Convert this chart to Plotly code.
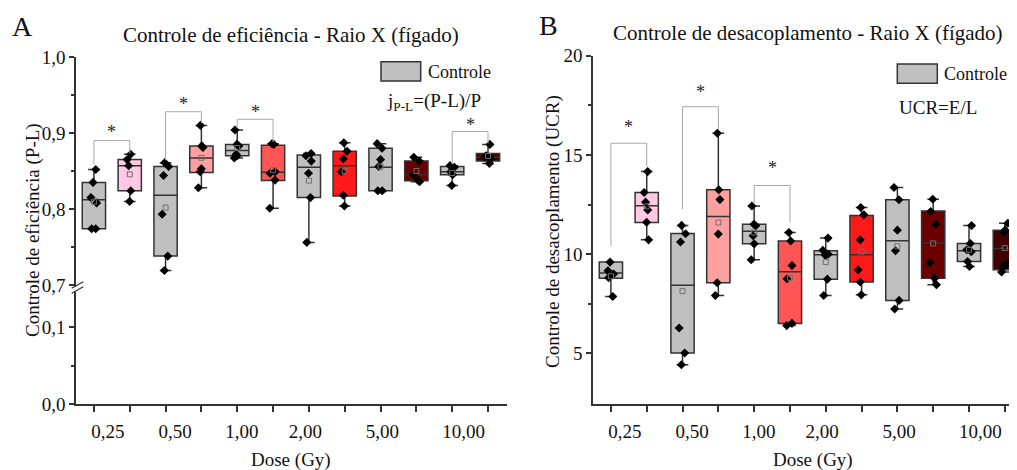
import numpy as np
import plotly.graph_objects as go

# the page body adds an 8px offset; figure is sized/positioned to compensate
OFF = 8
W, H = 1017 - OFF, 470 - OFF

doses = ["0,25", "0,50", "1,00", "2,00", "5,00", "10,00"]
positions = list(range(1, 13))  # control / irradiated pairs per dose

# ---- Panel A: Controle de eficiência (P-L) ----
eff_points = [
    [0.852, 0.835, 0.815, 0.808, 0.774, 0.774],
    [0.872, 0.865, 0.857, 0.824, 0.810],
    [0.861, 0.856, 0.844, 0.793, 0.738, 0.719],
    [0.910, 0.883, 0.881, 0.853, 0.849, 0.828],
    [0.904, 0.885, 0.883, 0.872, 0.870, 0.867],
    [0.886, 0.885, 0.849, 0.847, 0.838, 0.801],
    [0.873, 0.870, 0.863, 0.847, 0.815, 0.756],
    [0.887, 0.876, 0.866, 0.849, 0.818, 0.804],
    [0.886, 0.880, 0.865, 0.856, 0.824, 0.824],
    [0.868, 0.863, 0.845, 0.838, 0.836],
    [0.857, 0.855, 0.849, 0.845, 0.831],
    [0.885, 0.870, 0.868, 0.866, 0.860],
]
eff_q1 = [0.774, 0.824, 0.738, 0.848, 0.870, 0.8375, 0.815, 0.817, 0.824, 0.837, 0.845, 0.863]
eff_med = [0.812, 0.857, 0.818, 0.867, 0.877, 0.8485, 0.855, 0.857, 0.855, 0.845, 0.849, 0.868]
eff_q3 = [0.835, 0.865, 0.856, 0.883, 0.885, 0.884, 0.871, 0.876, 0.880, 0.863, 0.856, 0.873]
eff_lo = [0.774, 0.810, 0.719, 0.828, 0.867, 0.801, 0.756, 0.804, 0.823, 0.836, 0.831, 0.860]
eff_hi = [0.852, 0.872, 0.861, 0.910, 0.904, 0.886, 0.873, 0.887, 0.886, 0.868, 0.857, 0.885]
# significance brackets: (left box, right box, left end, top, right end, star y)
eff_brackets = [
    (1, 2, 0.859, 0.890, 0.873, 0.901),
    (3, 4, 0.864, 0.928, 0.913, 0.938),
    (5, 6, 0.9075, 0.918, 0.888, 0.928),
    (11, 12, 0.859, 0.902, 0.886, 0.910),
]

# ---- Panel B: Controle de desacoplamento (UCR) ----
ucr_points = [
    [9.60, 9.16, 9.00, 8.81, 7.87],
    [14.16, 13.11, 12.62, 12.23, 11.61, 10.72],
    [11.45, 11.03, 10.61, 6.28, 5.02, 4.43],
    [16.09, 13.24, 12.75, 11.01, 8.56, 7.92],
    [12.43, 11.51, 11.43, 10.93, 10.52, 9.72],
    [11.09, 10.66, 9.43, 8.76, 6.51, 6.40],
    [10.81, 10.20, 10.00, 9.94, 8.74, 7.92],
    [12.35, 11.98, 10.72, 9.21, 8.60, 7.95],
    [13.36, 12.74, 11.21, 10.17, 7.67, 7.24],
    [12.77, 12.15, 11.51, 9.58, 8.78, 8.46],
    [11.44, 10.54, 10.22, 10.12, 9.63, 9.38],
    [11.56, 11.21, 11.10, 9.50, 9.38, 9.10],
]
ucr_q1 = [8.78, 11.60, 5.02, 8.56, 10.52, 6.51, 8.73, 8.60, 7.67, 8.78, 9.63, 9.21]
ucr_med = [9.05, 12.44, 8.43, 11.90, 11.16, 9.11, 9.97, 9.97, 10.67, 10.56, 10.17, 10.29]
ucr_q3 = [9.60, 13.11, 11.04, 13.24, 11.51, 10.66, 10.17, 11.95, 12.74, 12.18, 10.54, 11.21]
ucr_lo = [7.87, 10.72, 4.43, 7.92, 9.72, 6.40, 7.92, 7.95, 7.24, 8.46, 9.38, 9.10]
ucr_hi = [9.60, 14.16, 11.45, 16.09, 12.43, 11.09, 10.81, 12.35, 13.36, 12.77, 11.44, 11.56]
ucr_brackets = [
    (1, 2, 10.39, 15.59, 14.41, 16.43),
    (3, 4, 12.27, 17.43, 16.30, 18.19),
    (5, 6, 12.57, 13.46, 11.60, 14.33),
]

box_colors = ["#C0C0C0", "#FFC8E4", "#C0C0C0", "#FFA0A0", "#C0C0C0", "#FF5555",
              "#C0C0C0", "#FF1A1A", "#C0C0C0", "#6B0000", "#C0C0C0", "#420000"]
# where the dose labels sit along the category axis (as in the original)
label_pos = [1.39, 3.27, 5.13, 6.90, 9.05, 11.32]

FONT = "Liberation Serif"
AX = "#333333"


def px(x):
    return (x - OFF) / W


def py(y):
    return 1 - (y - OFF) / H


fig = go.Figure()


def add_panel(points, q1, med, q3, lo, hi, brackets, xa, ya):
    for i, p in enumerate(positions):
        fig.add_trace(go.Box(
            x=[p], q1=[q1[i]], median=[med[i]], q3=[q3[i]],
            lowerfence=[lo[i]], upperfence=[hi[i]],
            fillcolor=box_colors[i], line=dict(color=AX, width=1.5),
            width=0.65, whiskerwidth=0.5, boxpoints=False,
            xaxis=xa, yaxis=ya, showlegend=False, hoverinfo="skip"))
    xs, ys = [], []
    for p, vals in zip(positions, points):
        xs += [p] * len(vals)
        ys += vals
    fig.add_trace(go.Box(
        x=xs, y=ys, boxpoints="all", jitter=0.3, pointpos=0, width=0.65,
        fillcolor="rgba(0,0,0,0)", line=dict(width=0, color="rgba(0,0,0,0)"),
        marker=dict(symbol="diamond", size=7, color="black"),
        xaxis=xa, yaxis=ya, showlegend=False, hoverinfo="skip"))
    means = [float(np.mean(v)) for v in points]
    fig.add_trace(go.Scatter(
        x=positions, y=means, mode="markers",
        marker=dict(symbol="square-open", size=5, color="#707070", line=dict(width=1)),
        xaxis=xa, yaxis=ya, showlegend=False, hoverinfo="skip"))
    for (a, b, yl, yt, yr, ys_) in brackets:
        fig.add_trace(go.Scatter(
            x=[a, a, b, b], y=[yl, yt, yt, yr], mode="lines",
            line=dict(color="#A8A8A8", width=1),
            xaxis=xa, yaxis=ya, showlegend=False, hoverinfo="skip"))
        fig.add_annotation(x=(a + b) / 2, y=ys_, xref=xa, yref=ya, text="*",
                           showarrow=False, font=dict(family=FONT, size=18, color="#222"),
                           xanchor="center", yanchor="middle")


add_panel(eff_points, eff_q1, eff_med, eff_q3, eff_lo, eff_hi, eff_brackets, "x", "y")
add_panel(ucr_points, ucr_q1, ucr_med, ucr_q3, ucr_lo, ucr_hi, ucr_brackets, "x2", "y2")
# placeholder so the lower (broken) axis of panel A is drawn
fig.add_trace(go.Scatter(x=[1], y=[-1], mode="markers", marker=dict(opacity=0),
                         xaxis="x", yaxis="y3", showlegend=False, hoverinfo="skip"))

tickfont = dict(family=FONT, size=19, color="#111")
common_axis = dict(showline=True, linecolor=AX, linewidth=1.5, showgrid=False,
                   zeroline=False, ticks="outside", ticklen=5, tickwidth=1.5,
                   tickcolor=AX, tickfont=tickfont, automargin=False)

xcommon = dict(common_axis, tickmode="array", tickvals=label_pos, ticktext=doses,
               ticks="", ticklabelstandoff=9,
               minor=dict(tickmode="array", tickvals=positions, ticks="outside",
                          ticklen=6, tickwidth=1.5, tickcolor=AX))

fig.update_layout(
    template="none",
    width=W, height=H, margin=dict(l=0, r=0, t=0, b=0, pad=0, autoexpand=False),
    paper_bgcolor="white", plot_bgcolor="white", boxmode="overlay",
    xaxis=dict(xcommon, domain=[px(76), px(507)], range=[0.5, 12.53], anchor="y3"),
    yaxis=dict(common_axis, domain=[py(286.5), py(57)], range=[0.698, 1.0], anchor="x",
               tickmode="array", tickvals=[0.7, 0.8, 0.9, 1.0],
               ticktext=["0,7", "0,8", "0,9", "1,0"],
               minor=dict(tickmode="array", tickvals=[0.75, 0.85, 0.95], ticks="outside",
                          ticklen=3, tickwidth=1.5, tickcolor=AX)),
    yaxis3=dict(common_axis, domain=[py(404), py(292)], range=[0, 0.146], anchor="x",
                tickmode="array", tickvals=[0.0, 0.1], ticktext=["0,0", "0,1"],
                minor=dict(tickmode="array", tickvals=[0.05], ticks="outside",
                           ticklen=3, tickwidth=1.5, tickcolor=AX)),
    xaxis2=dict(xcommon, domain=[px(593), 1.0], range=[0.5, 12.34], anchor="y2"),
    yaxis2=dict(common_axis, domain=[py(404), py(55.7)], range=[2.45, 20], anchor="x2",
                tickmode="array", tickvals=[5, 10, 15, 20], ticktext=["5", "10", "15", "20"],
                minor=dict(tickmode="array", tickvals=[7.5, 12.5, 17.5], ticks="outside",
                           ticklen=3, tickwidth=1.5, tickcolor=AX)),
)

# axis break marks on panel A
for (x0, y0, x1, y1) in [(71.7, 288.3, 83.3, 281.7), (71.7, 293.3, 83.3, 286.7)]:
    fig.add_shape(type="line", xref="paper", yref="paper",
                  x0=px(x0), y0=py(y0), x1=px(x1), y1=py(y1),
                  line=dict(color=AX, width=1.2))

txt = dict(family=FONT, color="#111")


def note(x, y, text, size, xanchor="center", **kw):
    fig.add_annotation(x=px(x), y=py(y), xref="paper", yref="paper", text=text,
                       showarrow=False, font=dict(txt, size=size),
                       xanchor=xanchor, yanchor="middle", **kw)


note(22, 27, "A", 28)
note(548, 25, "B", 28)
note(291, 35, "Controle de eficiência - Raio X (fígado)", 21)
note(808, 33, "Controle de desacoplamento - Raio X (fígado)", 21)
note(33, 230, "Controle de eficiência (P-L)", 19, textangle=-90)
note(553, 232, "Controle de desacoplamento (UCR)", 19, textangle=-90)
note(291, 460, "Dose (Gy)", 19)
note(813, 460, "Dose (Gy)", 19)

# legends
for (x0, y0, x1, y1, tx, ty, extra, ex, ey) in [
    (381, 61.7, 420.7, 81, 425.7, 72, "j<sub>P-L</sub>=(P-L)/P", 385, 102),
    (897.3, 64, 937.3, 83.3, 941.7, 74, "UCR=E/L", 897, 107),
]:
    fig.add_shape(type="rect", xref="paper", yref="paper",
                  x0=px(x0), y0=py(y1), x1=px(x1), y1=py(y0),
                  fillcolor="#C0C0C0", line=dict(color=AX, width=1.5))
    note(tx, ty, "Controle", 18, xanchor="left")
    note(ex, ey, extra, 19, xanchor="left")

fig.write_html("out.html")
